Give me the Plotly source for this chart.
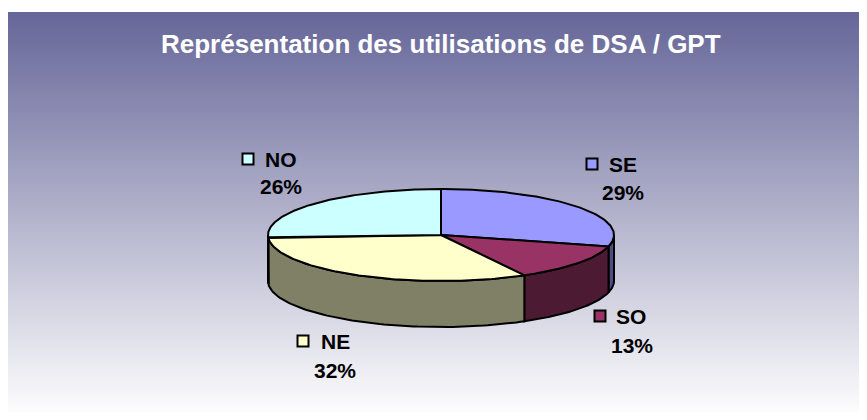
import numpy as np
import plotly.graph_objects as go

# ---- data ----
categories = ["SE", "SO", "NE", "NO"]
values = [29, 13, 32, 26]
title_text = "Représentation des utilisations de DSA / GPT"

# ---- styles ----
top_colors = ["#9999FF", "#993366", "#FFFFCC", "#CCFFFF"]
side_colors = ["#4D4D80", "#4D1A33", "#808066", "#668080"]

W, H = 867, 420
OFF = 8  # page body margin in the browser
FIG_W, FIG_H = W - OFF, H - 2 * OFF  # keep the page free of scrollbars
cx, cy, rx, ry, depth = 441, 235, 173, 46, 46

# label layout (square marker centre, name text left, pct text left/centre y)
label_layout = {
    "SE": dict(sq=(592, 164), name=(608, 164), pct=(601, 192)),
    "SO": dict(sq=(600, 316), name=(615, 316), pct=(610, 345)),
    "NE": dict(sq=(303, 341), name=(320, 341), pct=(313, 370)),
    "NO": dict(sq=(248, 159), name=(264, 159), pct=(259, 186)),
}

fig = go.Figure()

# background gradient (#666699 -> white), panel starts at x=7, y=12
top_rgb = np.array([102, 102, 153])
bot_rgb = np.array([255, 255, 255])
n_bands = 204
y0p, y1p = 12, H
for i in range(n_bands):
    f = i / (n_bands - 1)
    c = top_rgb + (bot_rgb - top_rgb) * f
    ya = y0p + (y1p - y0p) * i / n_bands
    yb = y0p + (y1p - y0p) * (i + 1) / n_bands + 0.6
    fig.add_shape(type="rect", xref="x", yref="y", x0=7, x1=W + 2, y0=ya, y1=yb,
                  line=dict(width=0), fillcolor=f"rgb({c[0]:.0f},{c[1]:.0f},{c[2]:.0f})",
                  layer="below")


def ell(theta_deg, dy=0.0):
    t = np.radians(theta_deg)
    return cx + rx * np.sin(t), cy - ry * np.cos(t) + dy


total = sum(values)
bounds = np.concatenate([[0], np.cumsum(values) / total * 360.0])
LW = 2

# side walls (front half: 90..270 degrees, clockwise from top)
for i, cat in enumerate(categories):
    a, b = bounds[i], bounds[i + 1]
    lo, hi = max(a, 90), min(b, 270)
    if lo < hi:
        th = np.linspace(lo, hi, 80)
        xt, yt = ell(th)
        xb, yb = ell(th[::-1], depth)
        xs = np.concatenate([xt, xb, xt[:1]])
        ys = np.concatenate([yt, yb, yt[:1]])
        fig.add_trace(go.Scatter(x=xs, y=ys, mode="lines", fill="toself",
                                 fillcolor=side_colors[i],
                                 line=dict(color="black", width=LW),
                                 hoverinfo="skip", showlegend=False))

# top faces
for i, cat in enumerate(categories):
    a, b = bounds[i], bounds[i + 1]
    th = np.linspace(a, b, 120)
    xa, ya = ell(th)
    xs = np.concatenate([[cx], xa, [cx]])
    ys = np.concatenate([[cy], ya, [cy]])
    fig.add_trace(go.Scatter(x=xs, y=ys, mode="lines", fill="toself",
                             fillcolor=top_colors[i],
                             line=dict(color="black", width=LW),
                             name=cat, hoverinfo="name", showlegend=False))

# labels with legend-key squares
font_family = "Arial, Liberation Sans, sans-serif"
for i, cat in enumerate(categories):
    L = label_layout[cat]
    pct = round(values[i] / total * 100)
    fig.add_trace(go.Scatter(x=[L["sq"][0]], y=[L["sq"][1]], mode="markers",
                             marker=dict(symbol="square", size=11, color=top_colors[i],
                                         line=dict(color="black", width=2)),
                             hoverinfo="skip", showlegend=False))
    fig.add_annotation(x=L["name"][0], y=L["name"][1], xref="x", yref="y",
                       text=cat, showarrow=False, xanchor="left", yanchor="middle",
                       borderpad=0,
                       font=dict(family=font_family, size=21, color="black", weight="bold"))
    fig.add_annotation(x=L["pct"][0], y=L["pct"][1], xref="x", yref="y",
                       text=f"{pct}%", showarrow=False, xanchor="left", yanchor="middle",
                       borderpad=0,
                       font=dict(family=font_family, size=21, color="black", weight="bold"))

# title
fig.add_annotation(x=441, y=44, xref="x", yref="y", text=title_text, showarrow=False,
                   xanchor="center", yanchor="middle",
                   font=dict(family=font_family, size=26, color="white", weight="bold"))

fig.update_layout(
    width=FIG_W, height=FIG_H, autosize=False,
    margin=dict(l=0, r=0, t=0, b=0),
    paper_bgcolor="white", plot_bgcolor="white",
    xaxis=dict(range=[OFF, OFF + FIG_W], visible=False, fixedrange=True),
    yaxis=dict(range=[OFF + FIG_H, OFF], visible=False, fixedrange=True),
    showlegend=False,
)

fig.write_html("out.html")
